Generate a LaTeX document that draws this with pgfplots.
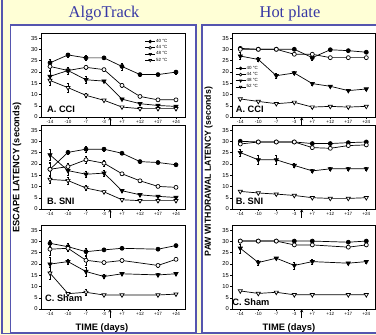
\documentclass[border=0pt]{standalone}
\usepackage{fontspec}
\setmainfont{Liberation Sans}
\newfontfamily\seriffont{Liberation Serif}
\usepackage{pgfplots}
\pgfplotsset{compat=1.18}
\definecolor{bgyellow}{RGB}{255,255,214}
\definecolor{frameblue}{RGB}{85,85,175}
\definecolor{titleblue}{RGB}{55,55,165}
\pgfplotsset{
  panel/.style={scale only axis, width=144bp, height=83.5bp,
    xmin=-0.5, xmax=7.5, ymin=0, ymax=37,
    xtick={0,...,7}, xticklabels={-14,-10,-7,-3,+7,+12,+17,+24},
    ytick={0,5,...,35}, xtick pos=left, ytick pos=left,
    tick align=outside, major tick length=2bp,
    tick style={black, line width=0.4bp},
    axis line style={line width=0.5bp},
    /pgf/number format/assume math mode=true,
    x tick label style={font=\fontsize{4.6}{5}\selectfont, inner sep=1.2bp},
    y tick label style={font=\fontsize{5.8}{6}\selectfont, inner sep=1.2bp},
    clip=false,
    legend cell align=left,
    legend image code/.code={\draw[##1, mark size=1.4bp, mark repeat=2, mark phase=2] plot coordinates {(0bp,0bp) (5bp,0bp) (10bp,0bp)};},
    legend style={draw=none, fill=none, font=\fontsize{4.5}{5}\selectfont, inner sep=0pt, row sep=0.4bp, nodes={inner sep=0.6bp}},
  },
  eb/.style={error bars/y dir=both, error bars/y explicit,
      error bars/error bar style={line width=0.45bp, black},
      error bars/error mark options={rotate=90, mark size=1.1bp, line width=0.45bp, black}},
  s40/.style={eb, black, line width=0.7bp, mark=*, mark size=2bp, mark options={fill=black, solid}},
  s44/.style={eb, black, line width=0.7bp, mark=*, mark size=2bp, mark options={fill=white, solid}},
  s48/.style={eb, black, line width=0.7bp, mark=triangle*, mark size=2.4bp, mark options={fill=black, rotate=180, solid}},
  s52/.style={eb, black, line width=0.7bp, mark=triangle*, mark size=2.4bp, mark options={fill=white, rotate=180, solid}},
}
\newcommand{\plab}[3]{\node[anchor=base west, font=\bfseries\fontsize{9.3}{10}\selectfont, inner sep=0pt] at ([xshift=#1,yshift=#2]rel axis cs:0,0) {#3};}
\newcommand{\surg}[1]{\draw[->, >=stealth, line width=0.5bp] ([yshift=-9bp]axis cs:#1,0) -- (axis cs:#1,0);}
\begin{document}
\begin{tikzpicture}
\begin{scope}[x=1bp,y=1bp]
\path[use as bounding box] (0,0) rectangle (376,335);
\fill[bgyellow] (0,0) rectangle (376,335);
\draw[frameblue, line width=1.3bp, fill=white] (10.5,2.5) rectangle (196,310);
\draw[frameblue, line width=1.3bp, fill=white] (202,2.5) rectangle (384,310);
\draw[frameblue, line width=1.3bp] (2,336) -- (2,1.5) -- (377,1.5);
\node[anchor=base, font=\seriffont\fontsize{16.5}{18}\selectfont, text=titleblue] at (104,318) {AlgoTrack};
\node[anchor=base, font=\seriffont\fontsize{16.5}{18}\selectfont, text=titleblue] at (290,318) {Hot plate};
\node[rotate=90, font=\bfseries\fontsize{9.3}{10}\selectfont] at (17,167.5) {ESCAPE LATENCY (seconds)};
\node[rotate=90, font=\bfseries\fontsize{8.8}{10}\selectfont] at (208.5,163.5) {PAW WITHDRAWAL LATENCY (seconds)};
\node[anchor=base, font=\bfseries\fontsize{9.4}{10}\selectfont] at (102,4.5) {TIME (days)};
\node[anchor=base, font=\bfseries\fontsize{9.4}{10}\selectfont] at (289,4.5) {TIME (days)};
\end{scope}

% ---------- AlgoTrack A. CCI ----------
\begin{axis}[panel, at={(41bp,218bp)}, anchor=south west,
  legend style={at={(0.72,0.94)}, anchor=north west}]
\addplot[s40] coordinates {(0,24.0) +- (0,1.8) (1,27.5) +- (0,0.8) (2,26.2) +- (0,1.0) (3,26.2) +- (0,0.6) (4,22.4) +- (0,1.5) (5,18.8) +- (0,0.8) (6,18.8) +- (0,0.5) (7,19.9) +- (0,0.8)};
\addplot[s44] coordinates {(0,22.4) +- (0,1.5) (1,20.6) +- (0,1.5) (2,22.0) +- (0,1.0) (3,21.0) +- (0,0.6) (4,14.0) +- (0,0.8) (5,9.1) +- (0,0.5) (6,7.6) +- (0,0.5) (7,7.6) +- (0,0.5)};
\addplot[s48] coordinates {(0,18.0) +- (0,2.5) (1,20.6) +- (0,1.5) (2,16.5) +- (0,1.5) (3,15.9) +- (0,0.6) (4,7.9) +- (0,0.5) (5,5.9) +- (0,0.5) (6,5.1) +- (0,0.5) (7,4.7) +- (0,0.5)};
\addplot[s52] coordinates {(0,16.2) +- (0,2.0) (1,13.0) +- (0,2.0) (2,9.6) +- (0,1.0) (3,7.4) +- (0,0.6) (4,4.4) +- (0,0.5) (5,3.7) +- (0,0.5) (6,3.7) +- (0,0.5) (7,3.7) +- (0,0.5)};
\legend{40 °C, 44 °C, 48 °C, 52 °C}
\plab{6bp}{4.7bp}{A. CCI}
\surg{3.33}
\end{axis}

% ---------- AlgoTrack B. SNI ----------
\begin{axis}[panel, at={(41bp,126bp)}, anchor=south west]
\addplot[s40] coordinates {(0,17.6) +- (0,3.0) (1,25.1) +- (0,1.0) (2,26.5) +- (0,1.2) (3,26.5) +- (0,1.0) (4,24.7) +- (0,0.6) (5,21.0) +- (0,0.5) (6,20.6) +- (0,0.5) (7,19.6) +- (0,0.5)};
\addplot[s44] coordinates {(0,17.6) +- (0,2.5) (1,18.8) +- (0,1.5) (2,21.8) +- (0,1.5) (3,20.3) +- (0,1.5) (4,15.6) +- (0,0.8) (5,12.5) +- (0,0.5) (6,10.0) +- (0,0.5) (7,9.6) +- (0,0.5)};
\addplot[s48] coordinates {(0,24.0) +- (0,2.5) (1,17.0) +- (0,2.0) (2,15.4) +- (0,1.5) (3,15.9) +- (0,1.5) (4,8.1) +- (0,0.6) (5,6.3) +- (0,0.5) (6,5.6) +- (0,0.5) (7,5.1) +- (0,0.5)};
\addplot[s52] coordinates {(0,13.1) +- (0,1.5) (1,12.6) +- (0,1.5) (2,9.3) +- (0,1.2) (3,7.6) +- (0,0.8) (4,4.1) +- (0,0.5) (5,3.7) +- (0,0.5) (6,3.7) +- (0,0.5) (7,3.7) +- (0,0.5)};
\plab{6bp}{4bp}{B. SNI}
\surg{3.33}
\end{axis}

% ---------- AlgoTrack C. Sham ----------
\begin{axis}[panel, at={(41bp,26bp)}, anchor=south west]
\addplot[s40] coordinates {(0,29.1) +- (0,1.5) (1,27.6) +- (0,1.5) (2,25.4) +- (0,1.5) (3,26.2) +- (0,0.8) (4,26.9) +- (0,0.6) (6,26.5) +- (0,0.6) (7,28.1) +- (0,0.6)};
\addplot[s44] coordinates {(0,26.5) +- (0,2.5) (1,26.9) +- (0,1.5) (2,21.6) +- (0,2.0) (3,20.6) +- (0,0.6) (4,21.5) +- (0,0.6) (6,19.3) +- (0,0.6) (7,22.0) +- (0,0.6)};
\addplot[s48] coordinates {(0,19.9) +- (0,3.0) (1,21.0) +- (0,1.2) (2,16.6) +- (0,2.0) (3,14.4) +- (0,0.8) (4,15.6) +- (0,0.6) (6,15.1) +- (0,0.6) (7,15.6) +- (0,0.6)};
\addplot[s52] coordinates {(0,15.9) +- (0,2.5) (1,6.8) +- (0,0.6) (2,7.4) +- (0,1.5) (3,6.2) +- (0,0.5) (4,6.2) +- (0,0.5) (6,6.2) +- (0,0.5) (7,6.6) +- (0,0.5)};
\plab{4bp}{8bp}{C. Sham}
\surg{3.33}
\end{axis}

% ---------- Hot plate A. CCI ----------
\begin{axis}[panel, xmin=-0.45, width=143.1bp, at={(232.2bp,218bp)}, anchor=south west,
  legend style={at={(0.02,0.62)}, anchor=north west}]
\addplot[s40] coordinates {(0,30.4) +- (0,0.5) (1,30.0) +- (0,0.3) (2,30.0) +- (0,0.3) (3,30.0) +- (0,0.3) (4,26.3) +- (0,1.0) (5,29.8) +- (0,0.5) (6,29.4) +- (0,0.5) (7,28.7) +- (0,0.5)};
\addplot[s44] coordinates {(0,30.0) +- (0,0.3) (1,30.0) +- (0,0.3) (2,30.0) +- (0,0.3) (3,27.8) +- (0,0.5) (4,27.8) +- (0,0.5) (5,26.3) +- (0,0.5) (6,26.3) +- (0,0.5) (7,26.3) +- (0,0.5)};
\addplot[s48] coordinates {(0,27.0) +- (0,1.5) (1,25.5) +- (0,1.0) (2,18.3) +- (0,1.0) (3,19.5) +- (0,0.7) (4,14.8) +- (0,0.5) (5,13.6) +- (0,0.5) (6,11.7) +- (0,0.5) (7,12.4) +- (0,0.5)};
\addplot[s52] coordinates {(0,8.0) +- (0,0.4) (1,6.9) +- (0,0.4) (2,5.9) +- (0,0.4) (3,6.5) +- (0,0.4) (4,4.4) +- (0,0.4) (5,4.7) +- (0,0.4) (6,4.4) +- (0,0.4) (7,4.7) +- (0,0.4)};
\legend{40 °C, 44 °C, 48 °C, 52 °C}
\plab{3.5bp}{4.7bp}{A. CCI}
\surg{3.41}
\end{axis}

% ---------- Hot plate B. SNI ----------
\begin{axis}[panel, xmin=-0.45, width=143.1bp, at={(232.2bp,126bp)}, anchor=south west]
\addplot[s40] coordinates {(0,30.0) +- (0,0.4) (1,29.7) +- (0,0.3) (2,29.7) +- (0,0.3) (3,29.7) +- (0,0.3) (4,29.0) +- (0,0.6) (5,29.0) +- (0,0.5) (6,29.4) +- (0,0.5) (7,29.7) +- (0,0.5)};
\addplot[s44] coordinates {(0,28.8) +- (0,0.5) (1,29.7) +- (0,0.3) (2,29.7) +- (0,0.3) (3,29.7) +- (0,0.3) (4,27.2) +- (0,0.5) (5,26.9) +- (0,0.5) (6,28.1) +- (0,0.5) (7,28.4) +- (0,0.5)};
\addplot[s48] coordinates {(0,25.0) +- (0,1.5) (1,21.8) +- (0,2.0) (2,21.8) +- (0,2.0) (3,19.3) +- (0,1.0) (4,16.9) +- (0,0.6) (5,17.8) +- (0,0.5) (6,17.8) +- (0,0.5) (7,17.8) +- (0,0.6)};
\addplot[s52] coordinates {(0,7.8) +- (0,0.3) (1,7.1) +- (0,0.3) (2,6.6) +- (0,0.3) (3,6.0) +- (0,0.3) (4,5.0) +- (0,0.3) (5,4.7) +- (0,0.3) (6,4.7) +- (0,0.3) (7,5.0) +- (0,0.3)};
\plab{3.5bp}{4bp}{B. SNI}
\surg{3.41}
\end{axis}

% ---------- Hot plate C. Sham ----------
\begin{axis}[panel, xmin=-0.45, width=143.1bp, at={(232.2bp,26bp)}, anchor=south west]
\addplot[s40] coordinates {(0,30.1) +- (0,0.3) (1,30.1) +- (0,0.3) (2,30.1) +- (0,0.3) (3,30.1) +- (0,0.5) (4,30.1) +- (0,0.5) (6,29.6) +- (0,0.6) (7,30.1) +- (0,0.5)};
\addplot[s44] coordinates {(0,30.1) +- (0,0.3) (1,30.1) +- (0,0.3) (2,30.1) +- (0,0.3) (3,28.4) +- (0,0.5) (4,28.4) +- (0,0.5) (6,27.4) +- (0,0.5) (7,28.4) +- (0,0.5)};
\addplot[s48] coordinates {(0,26.9) +- (0,2.0) (1,20.6) +- (0,1.0) (2,22.5) +- (0,0.6) (3,19.3) +- (0,1.5) (4,21.0) +- (0,1.0) (6,20.3) +- (0,0.6) (7,21.0) +- (0,0.6)};
\addplot[s52] coordinates {(0,8.0) +- (0,0.3) (1,6.9) +- (0,0.5) (2,7.4) +- (0,0.3) (3,6.3) +- (0,0.3) (4,6.3) +- (0,0.3) (6,6.3) +- (0,0.3) (7,6.3) +- (0,0.3)};
\plab{0bp}{3.3bp}{C. Sham}
\surg{3.41}
\end{axis}
\end{tikzpicture}
\end{document}
